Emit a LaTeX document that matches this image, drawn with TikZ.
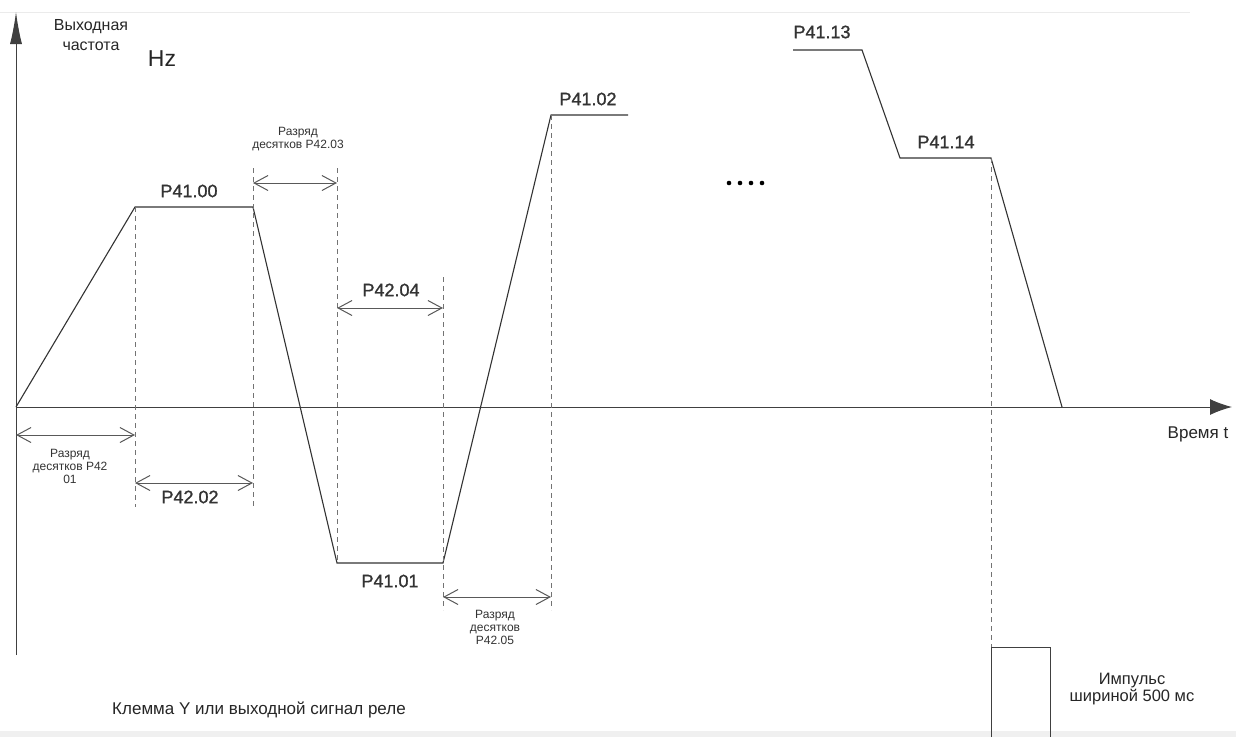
\documentclass[tikz,border=0pt]{standalone}
\usepackage{fontspec}
\setmainfont{Liberation Sans}
\newfontfamily\heavyfont[FakeBold=1.2]{Liberation Sans}
\usetikzlibrary{arrows.meta}
\begin{document}
\begin{tikzpicture}[x=1pt,y=-1pt,
  curve/.style={line width=1.1pt,black!80},
  guide/.style={dash pattern=on 5pt off 4pt,line width=1pt,black!55},
  dim/.style={{Straight Barb[length=14pt,width=15pt]}-{Straight Barb[length=14pt,width=15pt]},line width=1pt,black!65},
  small/.style={font=\fontsize{12}{13}\selectfont,align=center,text=black!80},
  par/.style={font=\heavyfont\fontsize{18}{20}\selectfont,text=black!80},
  lbl/.style={font=\fontsize{17}{19}\selectfont,align=center,text=black!85}]
\useasboundingbox (0,0) rectangle (1236,737);
\fill[white] (0,0) rectangle (1236,737);
\draw[black!8,line width=1pt] (0,12) -- (1190,12);
\fill[black!6] (0,731) rectangle (1236,737);
% axes
\coordinate (o) at (16,407);
\coordinate (ytop) at (16,12);
\coordinate (ybot) at (16,655);
\coordinate (xend) at (1232,407);
\draw[line width=1pt,black!75,-{Latex[length=32pt,width=12pt]}] (ybot) -- (ytop);
\draw[line width=1pt,black!75,-{Latex[length=22pt,width=16pt]}] (o) -- (xend);
% main curve
\coordinate (a1) at (135,207);
\coordinate (a2) at (253,207);
\coordinate (a3) at (337,563);
\coordinate (a4) at (443,563);
\coordinate (a5) at (551,115);
\coordinate (a6) at (628,115);
\draw[curve] (o) -- (a1) -- (a2) -- (a3) -- (a4) -- (a5) -- (a6);
\coordinate (b1) at (793,50);
\coordinate (b2) at (862,50);
\coordinate (b3) at (900,158);
\coordinate (b4) at (991,158);
\coordinate (b5) at (1062,407);
\draw[curve] (b1) -- (b2) -- (b3) -- (b4) -- (b5);
% dots
\foreach \i in {0,1,2,3} \fill (729+\i*11,183) circle (2.3pt);
% guides
\coordinate (g1t) at (135,207); \coordinate (g1b) at (135,507);
\coordinate (g2t) at (253,168); \coordinate (g2b) at (253,507);
\coordinate (g3t) at (337,168); \coordinate (g3b) at (337,563);
\coordinate (g4t) at (443,277); \coordinate (g4b) at (443,610);
\coordinate (g5t) at (551,115); \coordinate (g5b) at (551,610);
\coordinate (g6t) at (991,158); \coordinate (g6b) at (991,647);
\foreach \t/\b in {g1t/g1b,g2t/g2b,g3t/g3b,g4t/g4b,g5t/g5b,g6t/g6b} \draw[guide] (\t) -- (\b);
% dimension arrows
\coordinate (d1a) at (16,435); \coordinate (d1b) at (135,435);
\coordinate (d2a) at (135,483); \coordinate (d2b) at (253,483);
\coordinate (d3a) at (253,183); \coordinate (d3b) at (337,183);
\coordinate (d4a) at (337,308); \coordinate (d4b) at (443,308);
\coordinate (d5a) at (443,597); \coordinate (d5b) at (551,597);
\foreach \p/\q in {d1a/d1b,d2a/d2b,d3a/d3b,d4a/d4b,d5a/d5b} \draw[dim] (\p) -- (\q);
% pulse
\coordinate (p1) at (991,737); \coordinate (p2) at (991,647);
\coordinate (p3) at (1050,647); \coordinate (p4) at (1050,737);
\draw[line width=1pt,black!75] (p1) -- (p2) -- (p3) -- (p4);
% labels
\node[lbl,align=center,font=\fontsize{16}{20}\selectfont] (yl) at (91,35) {Выходная\\частота};
\node[font=\fontsize{23}{25}\selectfont,text=black!85] (hz) at (162,59) {Hz};
\node[lbl] (tl) at (1198,434) {Время t};
\node[small] (l1) at (70,466) {Разряд\\десятков P42\\01};
\node[small] (l3) at (298,139) {Разряд\\десятков P42.03};
\node[small] (l5) at (495,627) {Разряд\\десятков\\P42.05};
\node[par] (l2) at (190,497) {P42.02};
\node[par] (l4) at (391,290) {P42.04};
\node[par] (n0) at (189,191) {P41.00};
\node[par] (n1) at (390,581) {P41.01};
\node[par] (n2) at (588,99) {P41.02};
\node[par] (n13) at (822,32) {P41.13};
\node[par] (n14) at (946,142) {P41.14};
\node[lbl] (kl) at (259,710) {Клемма Y или выходной сигнал реле};
\node[lbl,font=\fontsize{16.5}{17}\selectfont] (imp) at (1132,689) {Импульс\\шириной 500 мс};
\end{tikzpicture}
\end{document}
